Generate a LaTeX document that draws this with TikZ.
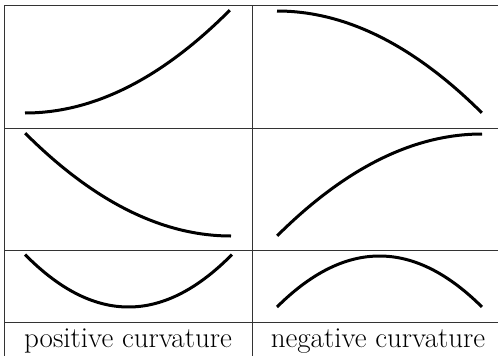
\documentclass[tikz,border=0pt]{standalone}
\begin{document}
\begin{tikzpicture}[x=1pt,y=-1pt,
  grid/.style={line width=1pt,black!80},
  curve/.style={line width=3pt,black,samples=60,smooth,variable=\t},
  lbl/.style={anchor=base,font=\fontsize{29}{32}\selectfont,inner sep=0pt}]
\useasboundingbox (0,0) rectangle (498,356);
% grid
\draw[grid] (4,5) -- (498,5);
\draw[grid] (4,128) -- (498,128);
\draw[grid] (4,250) -- (498,250);
\draw[grid] (4,322) -- (498,322);
\draw[grid] (4,5) -- (4,356);
\draw[grid] (252,5) -- (252,356);
% curves
\draw[curve,domain=0:1] plot ({25+205*\t},{113-103*\t*\t});
\draw[curve,domain=0:1] plot ({277+205*\t},{11+102*\t*\t});
\draw[curve,domain=0:1] plot ({231-206*\t},{236-103*\t*\t});
\draw[curve,domain=0:1] plot ({482-205*\t},{134+102*\t*\t});
\draw[curve,domain=-1:1] plot ({128.5+103.5*\t},{307-52.5*\t*\t});
\draw[curve,domain=-1:1] plot ({379.5+102.5*\t},{256+51*\t*\t});
% labels
\node[lbl] (pos) at (128,347) {positive curvature};
\node[lbl] (neg) at (378,347) {negative curvature};
\end{tikzpicture}
\end{document}
